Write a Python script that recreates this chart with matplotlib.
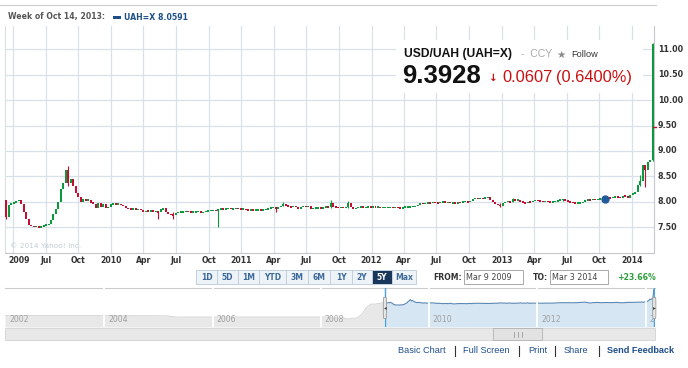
import numpy as np
import pandas as pd
import matplotlib
matplotlib.use("Agg")
import matplotlib.pyplot as plt
import matplotlib.dates as mdates
from matplotlib.patches import Rectangle, FancyBboxPatch
from matplotlib.transforms import blended_transform_factory

# ---------------- data ----------------
first_week = "2009-03-09"
first_open = 8.03
weekly_close = [
    7.70, 7.93, 7.97, 7.98, 8.01, 8.03, 7.95, 7.80, 7.65, 7.55,
    7.52, 7.50, 7.53, 7.48, 7.52, 7.53, 7.55, 7.56, 7.63, 7.76,
    7.86, 7.99, 8.25, 8.36, 8.62, 8.36, 8.44, 8.30, 8.18, 8.10,
    8.00, 8.05, 8.02, 8.04, 7.98, 7.96, 7.88, 7.97, 7.90, 7.95,
    7.87, 7.90, 7.95, 7.97, 7.95, 7.96, 7.93, 7.92, 7.88, 7.86,
    7.85, 7.87, 7.84, 7.86, 7.83, 7.79, 7.82, 7.81, 7.83, 7.80,
    7.81, 7.79, 7.85, 7.87, 7.79, 7.76, 7.74, 7.73, 7.78, 7.79,
    7.80, 7.80, 7.81, 7.80, 7.79, 7.80, 7.80, 7.81, 7.77, 7.80,
    7.82, 7.82, 7.83, 7.83, 7.82, 7.85, 7.86, 7.85, 7.86, 7.87,
    7.86, 7.86, 7.87, 7.86, 7.85, 7.86, 7.84, 7.83, 7.84, 7.83,
    7.84, 7.84, 7.83, 7.85, 7.85, 7.87, 7.88, 7.89, 7.86, 7.90,
    7.92, 7.95, 7.93, 7.90, 7.89, 7.92, 7.90, 7.86, 7.90, 7.91,
    7.90, 7.91, 7.86, 7.87, 7.88, 7.88, 7.87, 7.89, 7.90, 7.89,
    7.97, 7.90, 7.89, 7.88, 7.89, 7.88, 7.89, 7.97, 7.90, 7.86,
    7.88, 7.89, 7.90, 7.89, 7.89, 7.90, 7.89, 7.90, 7.89, 7.90,
    7.88, 7.89, 7.89, 7.89, 7.89, 7.88, 7.89, 7.88, 7.87, 7.89,
    7.90, 7.90, 7.90, 7.91, 7.91, 7.94, 7.97, 7.96, 7.97, 7.98,
    7.97, 7.99, 7.98, 7.97, 7.99, 8.00, 7.98, 7.99, 7.97, 7.98,
    7.96, 7.99, 7.98, 8.00, 8.00, 7.99, 8.01, 8.05, 8.07, 8.06,
    8.07, 8.06, 8.08, 8.09, 8.04, 8.00, 7.96, 7.93, 7.92, 7.97,
    8.00, 8.00, 7.99, 8.05, 8.02, 8.04, 8.00, 7.98, 7.97, 8.00,
    7.99, 8.02, 8.03, 8.02, 8.01, 8.00, 8.01, 8.00, 7.99, 8.00,
    8.01, 8.02, 8.04, 8.05, 8.02, 8.00, 7.99, 7.98, 7.97, 7.97,
    7.98, 7.99, 8.03, 8.04, 8.03, 8.05, 8.04, 8.05, 8.05, 8.05,
    8.06, 8.08, 8.07, 8.09, 8.10, 8.09, 8.08, 8.12, 8.10, 8.08,
    8.14, 8.16, 8.20, 8.33, 8.40, 8.72, 8.62, 8.78, 8.82, 11.10,
]
wick_week = [0, 25, 61, 67, 85, 108, 111, 130, 137, 198, 203, 223, 254, 256, 259]
wick_low = [7.66, 8.30, 7.66, 7.66, 7.50, 7.80, 7.92, 7.88, 7.88, 7.90, 7.99, 8.02, 8.30, 8.29, 8.80]
wick_high = [8.03, 8.70, 7.81, 7.79, 7.86, 7.89, 8.00, 8.03, 8.02, 7.97, 8.08, 8.06, 8.52, 8.72, 11.12]

highlight_week = "2013-10-14"
highlight_value = 8.0591
last_marker_value = 9.48

y_ticks = [7.5, 8.0, 8.5, 9.0, 9.5, 10.0, 10.5, 11.0]
x_tick_dates = ["2009-04-01", "2009-07-01", "2009-10-01", "2010-01-01", "2010-04-01",
                "2010-07-01", "2010-10-01", "2011-01-01", "2011-04-01", "2011-07-01",
                "2011-10-01", "2012-01-01", "2012-04-01", "2012-07-01", "2012-10-01",
                "2013-01-01", "2013-04-01", "2013-07-01", "2013-10-01", "2014-01-01"]
x_tick_labels = ["2009", "Jul", "Oct", "2010", "Apr", "Jul", "Oct", "2011", "Apr", "Jul",
                 "Oct", "2012", "Apr", "Jul", "Oct", "2013", "Apr", "Jul", "Oct", "2014"]

nav_hist_start = "2002-03-01"
nav_hist_values = [
    5.33, 5.32, 5.33, 5.33, 5.33, 5.33, 5.33, 5.33, 5.33, 5.33,
    5.33, 5.33, 5.33, 5.33, 5.33, 5.33, 5.33, 5.33, 5.33, 5.33, 5.33, 5.33,
    5.33, 5.32, 5.32, 5.31, 5.31, 5.32, 5.31, 5.31, 5.31, 5.31, 5.30, 5.31,
    5.30, 5.29, 5.28, 5.12, 5.05, 5.04, 5.05, 5.05, 5.05, 5.05, 5.05, 5.05,
    5.05, 5.05, 5.05, 5.05, 5.05, 5.05, 5.05, 5.05, 5.05, 5.05, 5.05, 5.05,
    5.05, 5.05, 5.05, 5.05, 5.05, 5.05, 5.05, 5.05, 5.05, 5.05, 5.05, 5.05,
    5.05, 5.04, 5.00, 4.83, 4.85, 4.85, 4.62, 4.80, 4.86, 5.50, 6.90, 7.70,
    7.70, 7.85, 8.00,
]
nav_years = ["2002", "2004", "2006", "2008", "2010", "2012", "2014"]

range_buttons = ["1D", "5D", "1M", "YTD", "3M", "6M", "1Y", "2Y", "5Y", "Max"]
active_button = "5Y"
from_text = "Mar 9 2009"
to_text = "Mar 3 2014"
change_text = "+23.66%"
footer_links = ["Basic Chart", "Full Screen", "Print", "Share", "Send Feedback"]

# ---------------- style ----------------
W, H = 688, 368
GREEN = "#0a9a3c"
RED = "#c70c32"
GRID = "#d9e0e8"
NAVY = "#1d4f87"

fig = plt.figure(figsize=(W / 100, H / 100), dpi=100)
fig.patch.set_facecolor("white")


def frame(x0, y0, x1, y1):
    return [x0 / W, 1 - y1 / H, (x1 - x0) / W, (y1 - y0) / H]


bg = fig.add_axes([0, 0, 1, 1], zorder=0)
bg.set_xlim(0, W)
bg.set_ylim(H, 0)
bg.axis("off")

# ---------------- main chart ----------------
ax = fig.add_axes(frame(5, 26, 654, 253), zorder=2)
ax.set_xlim(mdates.datestr2num("2009-03-09"), mdates.datestr2num("2014-03-03"))
ax.set_ylim(6.99, 11.46)
ax.set_xticks([])
ax.set_yticks([])
ax.spines["top"].set_visible(False)
ax.spines["left"].set_color(GRID)
ax.spines["bottom"].set_color("#c4c8cc")
ax.spines["right"].set_color("#c4c8cc")
for s in ["left", "bottom", "right"]:
    ax.spines[s].set_linewidth(0.8)

for d in x_tick_dates:
    ax.axvline(mdates.datestr2num(d), color=GRID, lw=0.9, zorder=0)
for v in y_ticks:
    ax.axhline(v, color=GRID, lw=0.9, zorder=0)

dates = pd.date_range(first_week, periods=len(weekly_close), freq="7D")
xc = mdates.date2num(dates) + 3.0
close = np.array(weekly_close)
opens = np.concatenate([[first_open], close[:-1]])
up = close >= opens
lo = np.minimum(opens, close)
hi = np.maximum(opens, close)
hgt = np.maximum(hi - lo, 0.03)
bottom = (lo + hi) / 2 - hgt / 2
colors = np.where(up, GREEN, RED)

for i, l, h in zip(wick_week, wick_low, wick_high):
    ax.vlines(xc[i], l, h, color=colors[i], lw=0.8, zorder=3)
ax.bar(xc, hgt, bottom=bottom, width=5.6, color=colors, linewidth=0, zorder=4)

ax.plot(mdates.datestr2num(highlight_week) + 3, highlight_value, "o", ms=5.0,
        color="#215b9b", zorder=6)

trans_r = blended_transform_factory(ax.transAxes, ax.transData)
ax.plot([0.998, 1.003], [last_marker_value] * 2, color=RED, lw=1.0,
        transform=trans_r, clip_on=False, zorder=7)
for v in y_ticks:
    ax.text(1 + 4 / 649, v, f"{v:.2f}", transform=trans_r, ha="left", va="center",
            fontsize=5.8, fontweight="bold", color="#333333", clip_on=False)

trans_b = blended_transform_factory(ax.transData, ax.transAxes)
for k, (d, lab) in enumerate(zip(x_tick_dates, x_tick_labels)):
    if k == 0:
        ax.text(3 / 649, -0.035, lab, transform=ax.transAxes, ha="left", va="center",
                fontsize=5.6, fontweight="bold", color="#333333", clip_on=False)
    else:
        ax.text(mdates.datestr2num(d), -0.035, lab, transform=trans_b, ha="center",
                va="center", fontsize=5.6, fontweight="bold", color="#333333",
                clip_on=False)

# ---------------- navigator ----------------
nav = fig.add_axes(frame(5, 288, 655, 327), zorder=2)
nav.set_xlim(mdates.datestr2num("2002-03-01"), mdates.datestr2num("2014-03-06"))
nav.set_ylim(3.0, 11.0)
nav.set_xticks([])
nav.set_yticks([])
for s in nav.spines.values():
    s.set_visible(False)
nav.spines["top"].set_visible(True)
nav.spines["top"].set_color("#cccccc")
nav.spines["top"].set_linewidth(0.8)

hist_dates = mdates.date2num(pd.date_range(nav_hist_start, periods=len(nav_hist_values), freq="MS"))
nav.fill_between(hist_dates, nav_hist_values, 3.0, color="#e8e8e8", lw=0)
nav.plot(hist_dates, nav_hist_values, color="#cfcfcf", lw=0.6)
nav.fill_between(xc, close, 3.0, color="#d6e6f2", lw=0)
nav.plot(xc, close, color="#5b87b3", lw=0.8)
for yr in nav_years:
    nav.axvline(mdates.datestr2num(f"{yr}-01-01"), color="white", lw=1.3, zorder=3)
navb = blended_transform_factory(nav.transData, nav.transAxes)
for k, yr in enumerate(nav_years):
    if k == 0:
        nav.text(4 / 650, 0.2, yr, transform=nav.transAxes, ha="left", va="center",
                 fontsize=5.6, color="#a0a0a0", zorder=4)
    else:
        nav.text(mdates.datestr2num(f"{yr}-01-01") + 25, 0.2, yr, transform=navb,
                 ha="left", va="center", fontsize=5.6, color="#a0a0a0", zorder=4,
                 clip_on=True)
sel_l = mdates.datestr2num(first_week)
sel_r = mdates.datestr2num("2014-03-01")
for xs in (sel_l, sel_r):
    nav.axvline(xs, color="#4aa3df", lw=1.0, zorder=5)
    nav.add_patch(FancyBboxPatch((xs - 11, 0.22), 22, 0.54, transform=navb,
                                 boxstyle="round,pad=0,rounding_size=3",
                                 fc="#e6e6e6", ec="#9a9a9a", lw=0.6, zorder=6,
                                 clip_on=False, mutation_aspect=0.05))
    nav.text(xs, 0.49, "\u25c2" if xs == sel_l else "\u25b8", transform=navb,
             ha="center", va="center", fontsize=4, color="#444444", zorder=7,
             clip_on=False)

# ---------------- decorations (pixel space) ----------------
ov = fig.add_axes([0, 0, 1, 1], zorder=6)
ov.set_xlim(0, W)
ov.set_ylim(H, 0)
ov.axis("off")

# header
bg.plot([0, 656], [4.5, 4.5], color="#cccccc", lw=0.8)
bg.text(8, 17, "Week of Oct 14, 2013:", fontsize=5.6, fontweight="bold",
        color="#555555", va="center", ha="left")
bg.add_patch(Rectangle((113, 15.5), 8, 3, fc=NAVY, ec="none"))
bg.text(124, 17, "UAH=X 8.0591", fontsize=5.6, fontweight="bold", color=NAVY,
        va="center", ha="left")

# quote box
ov.add_patch(Rectangle((396, 40), 247, 53, fc="white", ec="none", zorder=1))
LIB = "Liberation Sans"
ov.text(404, 57, "USD/UAH (UAH=X)", family=LIB, fontsize=8.7, fontweight="bold",
        color="#111111", va="baseline", ha="left", zorder=2)
ov.text(521, 57, "-  CCY", family=LIB, fontsize=7.6, color="#aaaaaa",
        va="baseline", ha="left", zorder=2)
ov.text(556, 57.5, "\u2605", fontsize=7.5, color="#8a8a8a", va="baseline", ha="left",
        zorder=2)
ov.text(571, 57, "Follow", family=LIB, fontsize=6.6, color="#333333",
        va="baseline", ha="left", zorder=2)
ov.text(402, 83, "9.3928", family=LIB, fontsize=18.5, fontweight="bold",
        color="#111111", va="baseline", ha="left", zorder=2)
ov.text(489, 81, "\u2193", fontsize=7.5, fontweight="bold", color="#cc1010",
        va="baseline", ha="left", zorder=2)
ov.text(502, 82, "0.0607", family=LIB, fontsize=11.8, color="#cc1010",
        va="baseline", ha="left", zorder=2)
ov.text(556, 82, "(0.6400%)", family=LIB, fontsize=11.8, color="#cc1010",
        va="baseline", ha="left", zorder=2)

# copyright
ov.text(10, 246.5, "\u00a9 2014 Yahoo! Inc.", fontsize=5.3, color="#c4ccd6",
        va="center", ha="left")

# range buttons
bx = 196
widths = {"1D": 21, "5D": 21, "1M": 21, "YTD": 27, "3M": 22, "6M": 22, "1Y": 22,
          "2Y": 20, "5Y": 20, "Max": 24}
for lab in range_buttons:
    w = widths[lab]
    active = lab == active_button
    bg.add_patch(Rectangle((bx, 270), w, 14, fc="#18375a" if active else "#eef3f8",
                           ec="#c2d0de", lw=0.7))
    bg.text(bx + w / 2, 277.3, lab, fontsize=5.5, fontweight="bold",
            color="white" if active else "#3d6a9a", ha="center", va="center")
    bx += w

bg.text(433, 277.3, "FROM:", fontsize=5.6, fontweight="bold", color="#333333",
        ha="left", va="center")
bg.add_patch(Rectangle((464, 270), 59, 14, fc="white", ec="#a8a8a8", lw=0.7))
bg.text(466, 277.3, from_text, fontsize=5.8, color="#444444", ha="left", va="center")
bg.text(533, 277.3, "TO:", fontsize=5.6, fontweight="bold", color="#333333",
        ha="left", va="center")
bg.add_patch(Rectangle((550, 270), 58, 14, fc="white", ec="#a8a8a8", lw=0.7))
bg.text(552, 277.3, to_text, fontsize=5.8, color="#444444", ha="left", va="center")
bg.text(617, 277.3, change_text, fontsize=5.6, fontweight="bold", color="#2a9d3a",
        ha="left", va="center")

# scrollbar
bg.add_patch(Rectangle((5, 328), 650, 12, fc="#e8e8e8", ec="#d2d2d2", lw=0.6))
bg.add_patch(Rectangle((493, 328), 49, 12, fc="#e2e2e2", ec="#b2b2b2", lw=0.6))
for xm in (513.5, 517.5, 521.5):
    bg.plot([xm, xm], [331.5, 336.5], color="#9a9a9a", lw=0.6)

# footer
fx = [398, 463, 528, 564, 607]
seps = [455, 519, 555, 599]
for x0, lab in zip(fx, footer_links):
    bg.text(x0, 350.5, lab, family=LIB, fontsize=6.6, color="#1f4e8c",
            fontweight="bold" if lab == "Send Feedback" else "normal",
            ha="left", va="center")
for xs in seps:
    bg.plot([xs, xs], [345.5, 355.5], color="#333333", lw=0.8)

fig.savefig("out.png", dpi=100, facecolor="white")
